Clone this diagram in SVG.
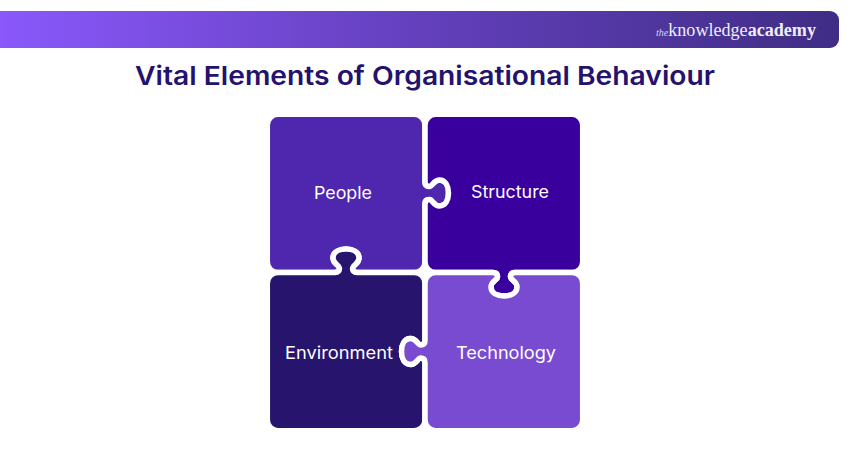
<svg xmlns="http://www.w3.org/2000/svg" width="850" height="450" viewBox="0 0 850 450">
<style>
.p{stroke:#fff;stroke-width:5.5;stroke-linejoin:round}
.l{font-family:"Inter","Noto Sans",sans-serif;font-size:17px;fill:#fff;text-anchor:middle;font-weight:400}
.logo{font-family:"Liberation Serif",serif;fill:#f1edf9}
</style>
<defs>
<linearGradient id="bar" x1="0" y1="0" x2="1" y2="0">
<stop offset="0" stop-color="#8a58fb"/>
<stop offset="0.5" stop-color="#6440bd"/>
<stop offset="1" stop-color="#3f2d85"/>
</linearGradient>
</defs>
<rect width="850" height="450" fill="#fff"/>
<g id="header">
<path d="M0 11H830a9 9 0 0 1 9 9V39a9 9 0 0 1-9 9H0Z" fill="url(#bar)"/>
<text class="logo" x="656" y="36" font-size="18" textLength="160" lengthAdjust="spacingAndGlyphs"><tspan font-style="italic" font-size="10" fill="#d9d0ee">the</tspan><tspan>knowledge</tspan><tspan font-weight="700">academy</tspan></text>
</g>
<g id="title">
<text x="425" y="85" text-anchor="middle" font-family="Inter,'Noto Sans',sans-serif" font-size="26" font-weight="600" fill="#24126e" textLength="580" lengthAdjust="spacingAndGlyphs">Vital Elements of Organisational Behaviour</text>
</g>
<g id="connectors"></g>
<g id="people">
<path class="p" fill="#4f27ae" d="M278 114.300H414.300A10.700 10.700 0 0 1 425 125V182C425 186 427.500 186.500 429.500 186.500C432.500 186.500 433.500 180 439.500 180C445.500 180 448.500 186 448.500 193C448.500 200 445.500 206 439.500 206C433.500 206 432.500 199.500 429.500 199.500C427.500 199.500 425 200 425 204V261.800A10.700 10.700 0 0 1 414.300 272.500H357C353 272.500 352.500 270 352.500 268C352.500 265 359 264 359 258C359 252 353 249 346 249C339 249 333 252 333 258C333 264 339.500 265 339.500 268C339.500 270 339 272.500 335 272.500H278A10.700 10.700 0 0 1 267.300 261.800V125A10.700 10.700 0 0 1 278 114.300Z"/>
<text class="l" x="343" y="199" textLength="58" lengthAdjust="spacingAndGlyphs">People</text>
</g>
<g id="structure">
<path class="p" fill="#39009e" d="M435.700 114.300H572A10.700 10.700 0 0 1 582.700 125V261.800A10.700 10.700 0 0 1 572 272.500H515C511 272.500 510.500 275 510.500 277C510.500 280 517 281 517 287C517 293 511 296 504 296C497 296 491 293 491 287C491 281 497.500 280 497.500 277C497.500 275 497 272.500 493 272.500H435.700A10.700 10.700 0 0 1 425 261.800V204C425 200 427.500 199.500 429.500 199.500C432.500 199.500 433.500 206 439.500 206C445.500 206 448.500 200 448.500 193C448.500 186 445.500 180 439.500 180C433.500 180 432.500 186.500 429.500 186.500C427.500 186.500 425 186 425 182V125A10.700 10.700 0 0 1 435.700 114.300Z"/>
<text class="l" x="510" y="198" textLength="78" lengthAdjust="spacingAndGlyphs">Structure</text>
</g>
<g id="environment">
<path class="p" fill="#27146d" d="M278 272.500H335C339 272.500 339.500 270 339.500 268C339.500 265 333 264 333 258C333 252 339 249 346 249C353 249 359 252 359 258C359 264 352.500 265 352.500 268C352.500 270 353 272.500 357 272.500H414.300A10.700 10.700 0 0 1 425 283.200V340.500C425 344.500 422.500 345 420.500 345C417.500 345 416.500 338.500 410.500 338.500C404.500 338.500 401.500 344.500 401.500 351.500C401.500 358.500 404.500 364.500 410.500 364.500C416.500 364.500 417.500 358 420.500 358C422.500 358 425 358.500 425 362.500V420A10.700 10.700 0 0 1 414.300 430.700H278A10.700 10.700 0 0 1 267.300 420V283.200A10.700 10.700 0 0 1 278 272.500Z"/>
<text class="l" x="339" y="359" textLength="108" lengthAdjust="spacingAndGlyphs">Environment</text>
</g>
<g id="technology">
<path class="p" fill="#794bd1" d="M435.700 272.500H493C497 272.500 497.500 275 497.500 277C497.500 280 491 281 491 287C491 293 497 296 504 296C511 296 517 293 517 287C517 281 510.500 280 510.500 277C510.500 275 511 272.500 515 272.500H572A10.700 10.700 0 0 1 582.700 283.200V420A10.700 10.700 0 0 1 572 430.700H435.700A10.700 10.700 0 0 1 425 420V362.500C425 358.500 422.500 358 420.500 358C417.500 358 416.500 364.500 410.500 364.500C404.500 364.500 401.500 358.500 401.500 351.500C401.500 344.500 404.500 338.500 410.500 338.500C416.500 338.500 417.500 345 420.500 345C422.500 345 425 344.500 425 340.500V283.200A10.700 10.700 0 0 1 435.700 272.500Z"/>
<text class="l" x="506" y="359" textLength="100" lengthAdjust="spacingAndGlyphs">Technology</text>
</g>
</svg>
